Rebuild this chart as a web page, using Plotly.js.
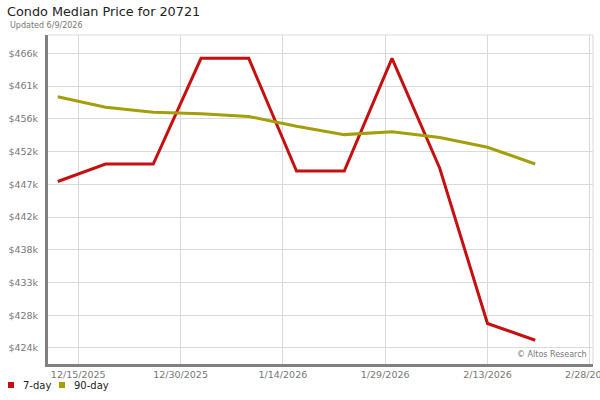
<!DOCTYPE html>
<html>
<head>
<meta charset="utf-8">
<script src="https://cdn.plot.ly/plotly-3.0.1.min.js"></script>
<style>
  html, body { margin: 0; padding: 0; background: #fff; }
  #chart { width: 600px; height: 400px; }
</style>
</head>
<body>
<div id="chart"></div>
<script>
// ---- data ----
const dates = ['2025-12-12','2025-12-19','2025-12-26','2026-01-02','2026-01-09','2026-01-16',
               '2026-01-23','2026-01-30','2026-02-06','2026-02-13','2026-02-20'];
const sevenDay  = [447800, 450300, 450300, 465400, 465400, 449300, 449300, 465400, 449700, 427500, 425100];
const ninetyDay = [459900, 458400, 457700, 457500, 457100, 455700, 454500, 454900, 454100, 452700, 450300];

const seriesNames = ['7-day', '90-day'];

const xTickVals = ['2025-12-15','2025-12-30','2026-01-14','2026-01-29','2026-02-13','2026-02-28'];
const xTickText = ['12/15/2025','12/30/2025','1/14/2026','1/29/2026','2/13/2026','2/28/2026'];
const yTickVals = [424000, 428680, 433360, 438040, 442720, 447400, 452080, 456760, 461440, 466120];
const yTickText = ['$424k','$428k','$433k','$438k','$442k','$447k','$452k','$456k','$461k','$466k'];

const titleText = 'Condo Median Price for 20721';
const subtitleText = 'Updated 6/9/2026';
const creditText = '\u00A9 Altos Research';

// ---- styling ----
const COLORS = ['#c60f0f', '#a39e0a'];
const FONT = 'DejaVu Sans, Verdana, sans-serif';
const W = 600, H = 400;
const M = { l: 48, r: 7, t: 35, b: 36 };
const PW = W - M.l - M.r, PH = H - M.t - M.b;
// helpers converting page pixels to paper fractions (for decoration placement only)
const px = v => (v - M.l) / PW;
const py = v => (H - M.b - v) / PH;

const seriesValues = [sevenDay, ninetyDay];
const traces = seriesValues.map((vals, i) => ({
  x: dates, y: vals, name: seriesNames[i], mode: 'lines', showlegend: false,
  line: { color: COLORS[i], width: 3 }, hoverinfo: 'skip'
}));

// compact legend (square swatch + label), laid out like the reference
const legendSlots = [8, 59];     // left edge of each swatch, page px
const legendShapes = seriesNames.map((n, i) => ({
  type: 'rect', xref: 'paper', yref: 'paper',
  x0: px(legendSlots[i]), x1: px(legendSlots[i] + 6), y0: py(388), y1: py(382),
  fillcolor: COLORS[i], line: { width: 0 }
}));
const legendLabels = seriesNames.map((n, i) => ({
  text: n, xref: 'paper', yref: 'paper',
  x: px(legendSlots[i] + 13), xanchor: 'left', y: py(385.5), yanchor: 'middle',
  showarrow: false, font: { family: FONT, size: 10, color: '#222' }
}));

const layout = {
  width: W, height: H,
  paper_bgcolor: '#fff', plot_bgcolor: '#fff',
  margin: { l: M.l, r: M.r, t: M.t, b: M.b, pad: 0 },
  font: { family: FONT, size: 10, color: '#222' },
  showlegend: false,
  title: {
    text: titleText,
    font: { family: FONT, size: 12.8, color: '#222' },
    xref: 'container', x: 7 / W, xanchor: 'left',
    yref: 'container', y: 1 - 7 / H, yanchor: 'top'
  },
  xaxis: {
    type: 'date',
    range: ['2025-12-10 13:35', '2026-02-28 11:16'],
    tickvals: xTickVals, ticktext: xTickText,
    ticks: '', showgrid: true, gridcolor: '#dadada', gridwidth: 1,
    showline: true, linecolor: '#808080', linewidth: 3,
    zeroline: false, fixedrange: true,
    tickfont: { family: FONT, size: 9.5, color: '#777' }
  },
  yaxis: {
    range: [421710, 468740],
    tickvals: yTickVals, ticktext: yTickText,
    ticks: '', showgrid: true, gridcolor: '#dadada', gridwidth: 1,
    showline: true, linecolor: '#808080', linewidth: 3,
    zeroline: false, fixedrange: true, ticklabelstandoff: 5,
    tickfont: { family: FONT, size: 9.5, color: '#777' }
  },
  shapes: [
    { type: 'line', xref: 'paper', yref: 'paper', x0: 0, x1: 1, y0: 1, y1: 1,
      line: { color: '#dadada', width: 1 } },
    { type: 'line', xref: 'paper', yref: 'paper', x0: 1, x1: 1, y0: 0, y1: 1,
      line: { color: '#dadada', width: 1 } }
  ].concat(legendShapes),
  annotations: [
    { text: subtitleText, xref: 'paper', yref: 'paper',
      x: px(8), xanchor: 'left', y: py(25.5), yanchor: 'middle',
      showarrow: false, font: { family: FONT, size: 8, color: '#777' } },
    { text: creditText, xref: 'paper', yref: 'paper',
      x: 0.993, xanchor: 'right', y: 0.01, yanchor: 'bottom',
      showarrow: false, bgcolor: '#fff', borderpad: 1,
      font: { family: FONT, size: 8, color: '#777' } },
    // last x tick label sits at the page edge (cut off there in the reference too)
    { text: xTickText[xTickText.length - 1], xref: 'x', yref: 'paper',
      x: xTickVals[xTickVals.length - 1], xanchor: 'center', y: py(374), yanchor: 'middle',
      showarrow: false, font: { family: FONT, size: 9.5, color: '#777' } }
  ].concat(legendLabels)
};

Plotly.newPlot('chart', traces, layout, { staticPlot: true, displayModeBar: false });
</script>
</body>
</html>
